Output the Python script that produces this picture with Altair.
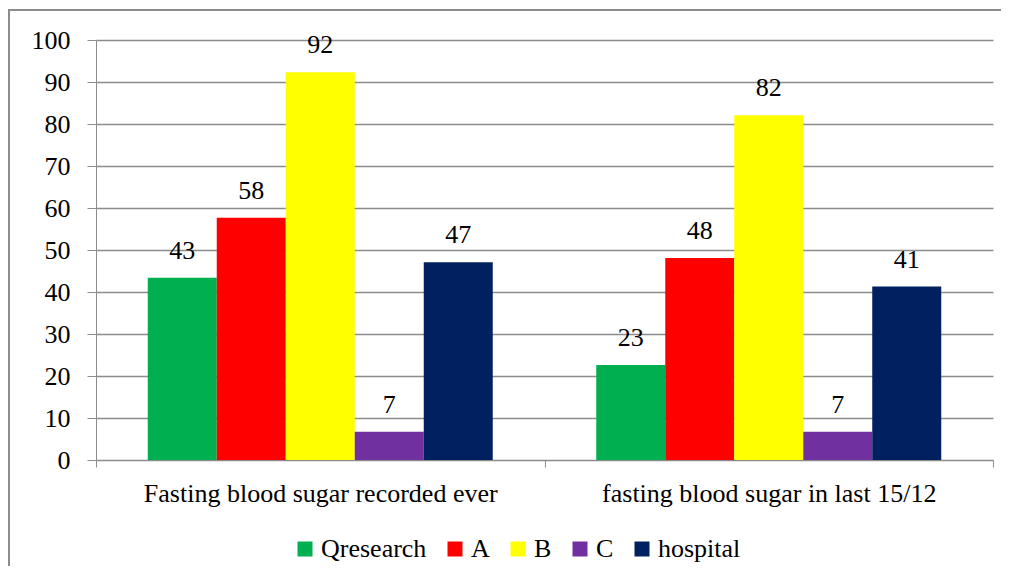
import altair as alt
import pandas as pd

categories = ["Fasting blood sugar recorded ever", "fasting blood sugar in last 15/12"]
series = ["Qresearch", "A", "B", "C", "hospital"]
colors = ["#00B050", "#FF0000", "#FFFF00", "#7030A0", "#002060"]
qresearch = [43.4, 22.6]
a_vals = [57.7, 48.1]
b_vals = [92.3, 82.1]
c_vals = [6.7, 6.7]
hospital = [47.1, 41.3]
y_ticks = list(range(0, 101, 10))

rows = []
for s, vals in zip(series, [qresearch, a_vals, b_vals, c_vals, hospital]):
    for c, v in zip(categories, vals):
        rows.append({"category": c, "series": s, "value": v, "label": str(round(v))})
df = pd.DataFrame(rows)

FONT = "Liberation Serif"
GRAY = "#8c8c8c"

x = alt.X("category:N", sort=categories,
          scale=alt.Scale(paddingInner=0, paddingOuter=0),
          axis=alt.Axis(title=None, labelAngle=0, tickBand="extent", grid=False,
                        domainColor=GRAY, tickColor=GRAY, tickSize=7, labelPadding=13,
                        labelFontSize=26, labelFont=FONT, labelColor="black", labelLimit=600))
xo = alt.XOffset("series:N", sort=series, scale=alt.Scale(paddingInner=0, paddingOuter=0.75))
y = alt.Y("value:Q", scale=alt.Scale(domain=[0, 100], nice=False),
          axis=alt.Axis(title=None, values=y_ticks, gridColor=GRAY, gridWidth=1.5,
                        tickColor=GRAY, domainColor=GRAY, tickSize=9, labelPadding=17,
                        labelFontSize=26, labelFont=FONT, labelColor="black"))

bars = alt.Chart(df).mark_bar().encode(
    x=x, xOffset=xo, y=y,
    color=alt.Color("series:N", sort=series,
                    scale=alt.Scale(domain=series, range=colors),
                    legend=alt.Legend(orient="none", legendX=196, legendY=496,
                                      direction="horizontal", title=None,
                                      symbolType="square", symbolSize=225,
                                      symbolStrokeWidth=0, labelFont=FONT,
                                      labelFontSize=26, labelColor="black",
                                      columnPadding=15, labelOffset=3))
)

labels = alt.Chart(df).mark_text(dy=-19, baseline="alphabetic", fontSize=26,
                                 font=FONT, color="black").encode(
    x=x, xOffset=xo, y=y, text="label:N"
)

frame_df = pd.DataFrame({"k": [0]})
frame_left = alt.Chart(frame_df).mark_rule(color=GRAY, strokeWidth=2).encode(
    x=alt.value(-87), x2=alt.value(-87), y=alt.value(-30), y2=alt.value(560))
frame_top = alt.Chart(frame_df).mark_rule(color=GRAY, strokeWidth=2).encode(
    x=alt.value(-88), x2=alt.value(905), y=alt.value(-30), y2=alt.value(-30))

chart = alt.layer(bars, labels, frame_left, frame_top).properties(
    width=897, height=420,
    padding={"left": 88, "top": 32, "right": 8, "bottom": 106},
    autosize=alt.AutoSizeParams(type="none"),
).configure_view(stroke=None)

chart.save("out.html", embed_options={"renderer": "svg", "actions": False})
